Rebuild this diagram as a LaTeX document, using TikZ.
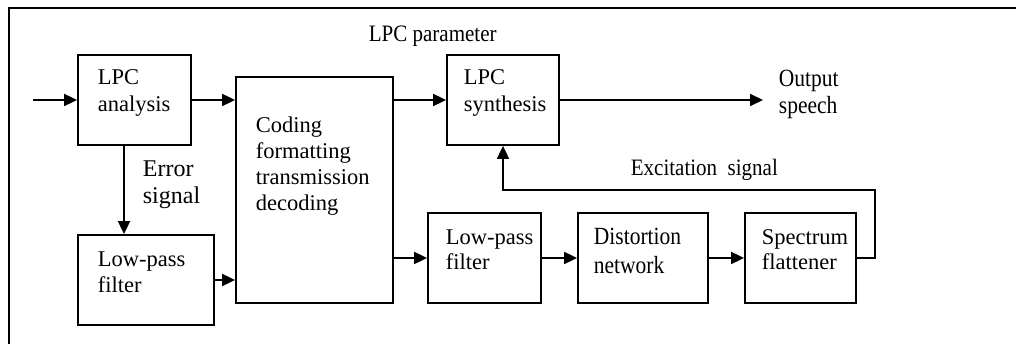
\documentclass[tikz,border=0pt]{standalone}
\usepackage{fontspec}
\setmainfont{Liberation Serif}
\usetikzlibrary{arrows.meta,calc}

\newcommand{\stretchy}[1]{\scalebox{1}[1.12]{#1}}

\begin{document}
\begin{tikzpicture}[x=1pt,y=-1pt,
  line width=1.8pt,
  blk/.style={draw,rectangle,inner sep=0pt,line width=1.8pt},
  lbl/.style={anchor=base west,inner sep=0pt,font=\fontsize{22.5}{27}\selectfont},
  freelbl/.style={lbl,font=\fontsize{21}{27}\selectfont},
  tall/.style={lbl,font=\fontsize{21.5}{27}\selectfont},
  flow/.style={-{Triangle[length=13pt,width=12pt]}}]
  \useasboundingbox (0,0) rectangle (1016,344);

  % outer frame (runs off the right and bottom edges)
  \draw[line width=1.5pt] (9,350) -- (9,8) -- (1020,8);

  % blocks
  \node[blk,minimum width=113pt,minimum height=90pt] (ana)  at (134.5,100) {};
  \node[blk,minimum width=136pt,minimum height=90pt] (lpfa) at (146,280) {};
  \node[blk,minimum width=157pt,minimum height=226pt] (cod) at (314.5,190) {};
  \node[blk,minimum width=112pt,minimum height=90pt] (syn)  at (503,100) {};
  \node[blk,minimum width=113pt,minimum height=90pt] (lpfb) at (484.5,258) {};
  \node[blk,minimum width=130pt,minimum height=90pt] (dis)  at (643,258) {};
  \node[blk,minimum width=111pt,minimum height=90pt] (spec) at (800.5,258) {};

  % block texts
  \node[lbl] (anaA) at (97,85)  {LPC};
  \node[lbl] (anaB) at (97,112) {analysis};
  \node[lbl] (lpfaA) at (97,267) {Low-pass};
  \node[lbl] (lpfaB) at (97,293) {filter};
  \node[lbl] (codA) at (255,133) {Coding};
  \node[lbl] (codB) at (255,159) {formatting};
  \node[lbl] (codC) at (255,185) {transmission};
  \node[lbl] (codD) at (255,211) {decoding};
  \node[lbl] (synA) at (463,85)  {LPC};
  \node[lbl] (synB) at (463,112) {synthesis};
  \node[lbl] (lpfbA) at (445,245) {Low-pass};
  \node[lbl] (lpfbB) at (445,270) {filter};
  \node[tall] (disA) at (593,245) {\scalebox{1}[1.15]{Distortion}};
  \node[tall] (disB) at (593,274) {\scalebox{1}[1.15]{network}};
  \node[lbl] (specA) at (761,245) {Spectrum};
  \node[lbl] (specB) at (761,270) {flattener};

  % free labels
  \node[freelbl] (param) at (368,42)  {\stretchy{LPC parameter}};
  \node[lbl,font=\fontsize{24}{27}\selectfont] (errA) at (142,177) {Error};
  \node[lbl,font=\fontsize{24}{27}\selectfont] (errB) at (142,204) {signal};
  \node[tall] (outA) at (778,87)  {\scalebox{1}[1.15]{Output}};
  \node[tall] (outB) at (778,114) {\scalebox{1}[1.15]{speech}};
  \node[freelbl] (exc) at (630,176) {\stretchy{Excitation\ \ signal}};

  % free ends
  \coordinate (in)  at (33,100);
  \coordinate (out) at (763,100);
  \coordinate (errx) at (124,0);
  \coordinate (loopx) at (875,0);
  \coordinate (loopy) at (0,190);

  % connectors
  \draw[flow] (in) -- (ana.west);
  \draw[flow] (ana.east) -- (ana.east -| cod.west);
  \draw[flow] (ana.south -| errx) -- (lpfa.north -| errx);
  \draw[flow] (lpfa.east) -- (lpfa.east -| cod.west);
  \draw[flow] (cod.east |- syn.west) -- (syn.west);
  \draw[flow] (cod.east |- lpfb.west) -- (lpfb.west);
  \draw[flow] (lpfb.east) -- (dis.west);
  \draw[flow] (dis.east) -- (spec.west);
  \draw[flow] (syn.east) -- (out);
  \draw[flow] (spec.east) -- (spec.east -| loopx) -- (loopx |- loopy)
              -- (syn.south |- loopy) -- (syn.south);
\end{tikzpicture}
\end{document}
